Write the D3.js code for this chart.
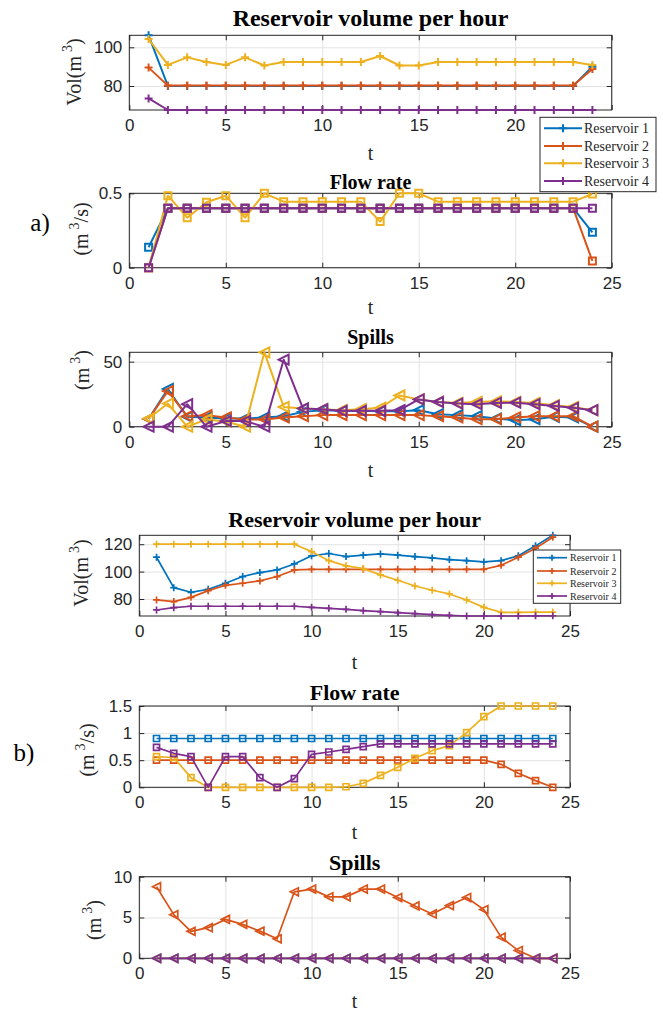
<!DOCTYPE html>
<html>
<head>
<meta charset="utf-8">
<script src="https://cdn.jsdelivr.net/npm/d3@7"></script>
<style>
body { margin: 0; background: #fff; }
</style>
</head>
<body>
<div id="view"></div>
<script>
// hours and series names
var hours = [1,2,3,4,5,6,7,8,9,10,11,12,13,14,15,16,17,18,19,20,21,22,23,24];
var names = ["Reservoir 1", "Reservoir 2", "Reservoir 3", "Reservoir 4"];
var colors = ["#0072BD", "#D95319", "#EDB120", "#7E2F8E"];
var xTicks = [0, 5, 10, 15, 20, 25];

// a) volumes
var volA1 = [106.2,80,80,80,80,80,80,80,80,80,80,80,80,80,80,80,80,80,80,80,80,80,80,90];
var volA2 = [89.5,80.2,80.2,80.2,80.2,80.2,80.2,80.2,80.2,80.2,80.2,80.2,80.2,80.2,80.2,80.2,80.2,80.2,80.2,80.2,80.2,80.2,80.2,88.8];
var volA3 = [104.3,90.9,94.8,92.4,90.9,94.8,90.6,92.4,92.4,92.4,92.4,92.4,95.5,90.6,90.6,92.4,92.4,92.4,92.4,92.4,92.4,92.4,92.4,90.9];
var volA4 = [73.6,67.6,67.6,67.6,67.6,67.6,67.6,67.6,67.6,67.6,67.6,67.6,67.6,67.6,67.6,67.6,67.6,67.6,67.6,67.6,67.6,67.6,67.6,67.6];
// a) flow rates
var flowA1 = [0.137,0.4,0.4,0.4,0.4,0.4,0.4,0.4,0.4,0.4,0.4,0.4,0.4,0.4,0.4,0.4,0.4,0.4,0.4,0.4,0.4,0.4,0.4,0.238];
var flowA2 = [0,0.4,0.4,0.4,0.4,0.4,0.4,0.4,0.4,0.4,0.4,0.4,0.4,0.4,0.4,0.4,0.4,0.4,0.4,0.4,0.4,0.4,0.4,0.045];
var flowA3 = [0,0.484,0.336,0.44,0.484,0.336,0.5,0.444,0.444,0.444,0.444,0.444,0.31,0.5,0.5,0.444,0.444,0.444,0.444,0.444,0.444,0.444,0.444,0.495];
var flowA4 = [0,0.4,0.4,0.4,0.4,0.4,0.4,0.4,0.4,0.4,0.4,0.4,0.4,0.4,0.4,0.4,0.4,0.4,0.4,0.4,0.4,0.4,0.4,0.4];
// a) spills
var spillA1 = [6,29,7.6,7.1,6.3,6.3,7.1,8.1,11.4,12.7,12.2,12.2,11.9,11.9,12.7,9.6,8.9,8.1,6.3,5,5.8,7.6,7.1,0];
var spillA2 = [6,27.4,8.1,8.9,7.1,5.6,5.6,7.1,8.1,8.9,8.9,8.9,8.9,8.9,8.9,8.1,7.1,5.8,5.8,7.1,8.1,8.1,8.1,0];
var spillA3 = [6.3,17.8,0,5.6,4,0,57.2,15.2,14,13.5,12.7,13.5,14.5,24,21,19,18.3,19,19.5,19,18.3,16.5,15.2,12.7];
var spillA4 = [0,0,17.3,0,4.3,4.3,0,51.5,14,13.5,12.2,12.2,12.2,12.7,21,19,17.8,17.3,18.3,18.5,17.3,16,14.5,12.7];

// b) volumes
var volB1 = [110.5,88.3,84.9,87.1,91.5,96.4,99.3,101.2,105.6,111.5,113.2,111,112,112.9,112,111,110,108.8,108,107.1,108,111.5,118.8,126.5];
var volB2 = [79.3,78.1,81.2,86.1,90,91.5,93.2,96.4,101.2,101.7,101.7,101.7,101.7,101.7,101.7,101.7,101.7,101.7,101.7,101.7,104.6,110.5,117.1,125.1];
var volB3 = [120,120,120,120,120,120,120,120,120,114.6,108,104.2,102.2,97.6,93.7,89.5,86.4,83.7,79.3,73.9,70.3,70.3,70.5,70.5];
var volB4 = [72,73.7,74.7,74.7,74.7,74.7,74.7,74.7,74.7,73.9,73.2,72.5,71.5,70.8,70,69.3,68.6,68.1,67.6,67.6,67.6,67.6,67.7,67.8];
// b) flow rates
var flowB1 = [0.9,0.9,0.9,0.9,0.9,0.9,0.9,0.9,0.9,0.9,0.9,0.9,0.9,0.9,0.9,0.9,0.9,0.9,0.9,0.9,0.9,0.9,0.9,0.9];
var flowB2 = [0.5,0.5,0.5,0.5,0.5,0.5,0.5,0.5,0.5,0.5,0.5,0.5,0.5,0.5,0.5,0.5,0.5,0.5,0.5,0.5,0.424,0.258,0.123,0];
var flowB3 = [0.565,0.55,0.178,0,0,0,0,0,0,0,0,0.01,0.074,0.22,0.369,0.535,0.676,0.768,1.008,1.303,1.5,1.5,1.5,1.5];
var flowB4 = [0.737,0.627,0.565,0,0.565,0.565,0.178,0,0.16,0.608,0.651,0.7,0.75,0.8,0.8,0.8,0.8,0.8,0.8,0.8,0.8,0.8,0.8,0.8];
// b) spills
var spillB1 = [0,0,0,0,0,0,0,0,0,0,0,0,0,0,0,0,0,0,0,0,0,0,0,0];
var spillB2 = [8.77,5.35,3.3,3.75,4.77,4.16,3.33,2.39,8.15,8.48,7.53,7.53,8.48,8.48,7.45,6.42,5.43,6.46,7.45,5.97,2.59,0.95,0,0];
var spillB3 = [0,0,0,0,0,0,0,0,0,0,0,0,0,0,0,0,0,0,0,0,0,0,0,0];
var spillB4 = [0,0,0,0,0,0,0,0,0,0,0,0,0,0,0,0,0,0,0,0,0,0,0,0];

var svg = d3.select("#view").append("svg")
	.attr("width", 663)
	.attr("height", 1013);

var SERIF = "'Liberation Serif', 'Times New Roman', serif";
var SANS = "'Liberation Sans', Arial, Helvetica, sans-serif";
var INK = "#262626";

// marker shapes, r = half size
function markerPath(kind, r){
	if (kind == "plus") return "M" + (-r) + ",0H" + r + "M0," + (-r) + "V" + r;
	if (kind == "square") return "M" + (-r) + "," + (-r) + "H" + r + "V" + r + "H" + (-r) + "Z";
	return "M" + (-r) + ",0L" + r + "," + (-r) + "L" + r + "," + r + "Z"; // triangle pointing left
}

function panel(p){
	var x = d3.scaleLinear().domain([0, 25]).range([p.x0, p.x1]);
	var y = d3.scaleLinear().domain(p.yDom).range([p.y1, p.y0]);
	var g = svg.append("g");
	var w = p.x1 - p.x0, h = p.y1 - p.y0;

	// grid
	g.append("g").attr("transform", "translate(0," + p.y1 + ")")
		.call(d3.axisBottom(x).tickValues(xTicks).tickSize(-h).tickFormat(""))
		.call(function(a){ a.select(".domain").remove(); a.selectAll("line").attr("stroke", "#e3e3e3"); });
	g.append("g").attr("transform", "translate(" + p.x0 + ",0)")
		.call(d3.axisLeft(y).tickValues(p.yTicks).tickSize(-w).tickFormat(""))
		.call(function(a){ a.select(".domain").remove(); a.selectAll("line").attr("stroke", "#e3e3e3"); });

	// axes with inward ticks
	var tk = 5;
	var bx = g.append("g").attr("transform", "translate(0," + p.y1 + ")")
		.call(d3.axisBottom(x).tickValues(xTicks).tickSizeInner(-tk).tickSizeOuter(0).tickPadding(9)
			.tickFormat(function(d){ return (p.hideLast && d == 25) ? "" : d; }));
	var lx = g.append("g").attr("transform", "translate(" + p.x0 + ",0)")
		.call(d3.axisLeft(y).tickValues(p.yTicks).tickSizeInner(-tk).tickSizeOuter(0).tickPadding(7).tickFormat(function(d){ return d; }));
	g.append("g").attr("transform", "translate(0," + p.y0 + ")")
		.call(d3.axisTop(x).tickValues(xTicks).tickSizeInner(-tk).tickSizeOuter(0).tickFormat(""));
	g.append("g").attr("transform", "translate(" + p.x1 + ",0)")
		.call(d3.axisRight(y).tickValues(p.yTicks).tickSizeInner(-tk).tickSizeOuter(0).tickFormat(""));
	g.selectAll(".domain").remove();
	g.selectAll(".tick line").filter(function(){ return d3.select(this).attr("stroke") != "#e3e3e3"; })
		.attr("stroke", INK);
	g.selectAll("text").attr("font-family", SANS).attr("font-size", 17).attr("fill", INK);
	bx.selectAll("text").attr("dy", "0.71em");

	g.append("rect")
		.attr("x", p.x0).attr("y", p.y0).attr("width", w).attr("height", h)
		.attr("fill", "none").attr("stroke", INK).attr("stroke-width", 1);

	// series
	var line = d3.line().x(function(d){ return x(d[0]); }).y(function(d){ return y(d[1]); });
	p.series.forEach(function(vals, i){
		var pts = hours.map(function(t, k){ return [t, vals[k]]; });
		g.append("path")
			.attr("d", line(pts))
			.attr("fill", "none")
			.attr("stroke", colors[i])
			.attr("stroke-width", p.lw)
			.attr("stroke-linejoin", "round");
		g.selectAll(null).data(pts).enter().append("path")
			.attr("transform", function(d){ return "translate(" + x(d[0]) + "," + y(d[1]) + ")"; })
			.attr("d", markerPath(p.marker, p.ms))
			.attr("fill", "none")
			.attr("stroke", colors[i])
			.attr("stroke-width", p.lw);
	});

	// title, x label, y label
	svg.append("text")
		.attr("x", (p.x0 + p.x1) / 2).attr("y", p.titleY)
		.attr("text-anchor", "middle").attr("dominant-baseline", "central")
		.attr("font-family", SERIF).attr("font-weight", "bold").attr("font-size", p.titleSize)
		.text(p.title);
	svg.append("text")
		.attr("x", (p.x0 + p.x1) / 2).attr("y", p.xlabY)
		.attr("text-anchor", "middle").attr("dominant-baseline", "central")
		.attr("font-family", SERIF).attr("font-size", 20).attr("fill", INK)
		.text("t");
	var yl = svg.append("text")
		.attr("transform", "translate(" + p.ylabX + "," + p.ylabY + ") rotate(-90)")
		.attr("text-anchor", "middle")
		.attr("font-family", SERIF).attr("font-size", 20).attr("fill", INK);
	yl.append("tspan").text(p.ylab[0]);
	yl.append("tspan").attr("font-size", 14).attr("dy", -9).attr("dx", 4).text("3");
	yl.append("tspan").attr("dy", 9).text(p.ylab[1]);
}

function legend(lx, ly, lw, lh, rowY, lineX0, lineX1, textX, fs, ms, sw){
	var g = svg.append("g");
	g.append("rect").attr("x", lx).attr("y", ly).attr("width", lw).attr("height", lh)
		.attr("fill", "#fff").attr("stroke", INK).attr("stroke-width", 1);
	names.forEach(function(n, i){
		var yy = rowY[i];
		g.append("line").attr("x1", lineX0).attr("x2", lineX1).attr("y1", yy).attr("y2", yy)
			.attr("stroke", colors[i]).attr("stroke-width", sw);
		g.append("path").attr("transform", "translate(" + ((lineX0 + lineX1) / 2) + "," + yy + ")")
			.attr("d", markerPath("plus", ms)).attr("stroke", colors[i]).attr("stroke-width", sw);
		g.append("text").attr("x", textX).attr("y", yy).attr("dominant-baseline", "central")
			.attr("font-family", SERIF).attr("font-size", fs).attr("fill", INK).text(n);
	});
}

// a)
panel({x0: 129.3, x1: 611.7, y0: 35.3, y1: 110, yDom: [67.6, 106.2], yTicks: [80, 100], hideLast: true,
	series: [volA1, volA2, volA3, volA4], marker: "plus", ms: 4, lw: 2,
	title: "Reservoir volume per hour", titleSize: 24, titleY: 18, xlabY: 153,
	ylab: ["Vol(m", ")"], ylabX: 81, ylabY: 72});
panel({x0: 129.3, x1: 611.7, y0: 193.3, y1: 267.7, yDom: [0, 0.5], yTicks: [0, 0.5],
	series: [flowA1, flowA2, flowA3, flowA4], marker: "square", ms: 3.5, lw: 2,
	title: "Flow rate", titleSize: 20, titleY: 182, xlabY: 307,
	ylab: ["(m", "/s)"], ylabX: 88, ylabY: 229});
panel({x0: 129.3, x1: 611.7, y0: 352.3, y1: 426.7, yDom: [0, 57.2], yTicks: [0, 50],
	series: [spillA1, spillA2, spillA3, spillA4], marker: "tri", ms: 5, lw: 2,
	title: "Spills", titleSize: 20, titleY: 337, xlabY: 470,
	ylab: ["(m", ")"], ylabX: 89, ylabY: 370});
legend(540, 117.3, 116, 74.4, [128.3, 146, 163.3, 181], 544, 582, 584, 14, 4, 2);

// b)
panel({x0: 139.3, x1: 570, y0: 535.3, y1: 616, yDom: [67.6, 126.5], yTicks: [80, 100, 120],
	series: [volB1, volB2, volB3, volB4], marker: "plus", ms: 3.5, lw: 1.7,
	title: "Reservoir volume per hour", titleSize: 22, titleY: 519, xlabY: 662,
	ylab: ["Vol(m", ")"], ylabX: 88, ylabY: 573});
panel({x0: 139.3, x1: 570, y0: 706, y1: 787.3, yDom: [0, 1.5], yTicks: [0, 0.5, 1, 1.5],
	series: [flowB1, flowB2, flowB3, flowB4], marker: "square", ms: 3, lw: 1.7,
	title: "Flow rate", titleSize: 22, titleY: 692, xlabY: 832,
	ylab: ["(m", "/s)"], ylabX: 94, ylabY: 750});
panel({x0: 139.3, x1: 570, y0: 876.7, y1: 958.3, yDom: [0, 10], yTicks: [0, 5, 10],
	series: [spillB1, spillB2, spillB3, spillB4], marker: "tri", ms: 4, lw: 1.7,
	title: "Spills", titleSize: 22, titleY: 862, xlabY: 1001,
	ylab: ["(m", ")"], ylabX: 101, ylabY: 920});
legend(533.3, 550, 87.4, 53.3, [557.7, 571, 583.3, 596], 537, 567, 570, 10, 3, 1.7);

// subfigure labels
svg.append("text").attr("x", 40).attr("y", 222).attr("text-anchor", "middle").attr("dominant-baseline", "central")
	.attr("font-family", SERIF).attr("font-size", 25).text("a)");
svg.append("text").attr("x", 24).attr("y", 752).attr("text-anchor", "middle").attr("dominant-baseline", "central")
	.attr("font-family", SERIF).attr("font-size", 25).text("b)");
</script>
</body>
</html>
